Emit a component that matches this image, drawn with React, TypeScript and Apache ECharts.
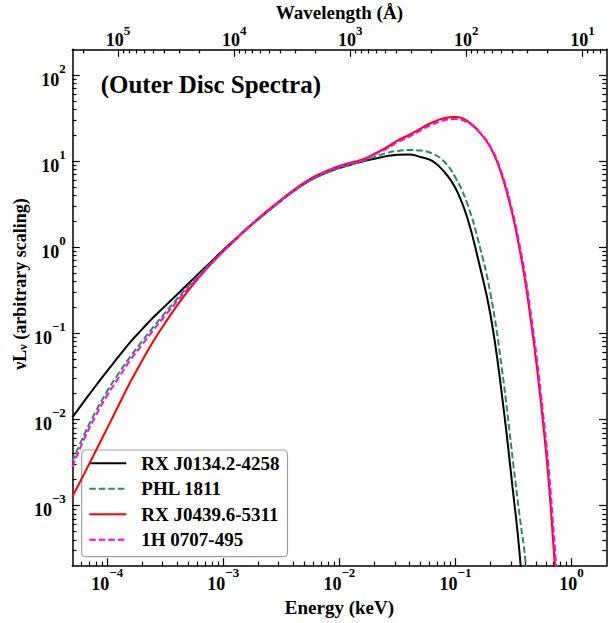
import React, { useEffect, useRef } from 'react';
import * as echarts from 'echarts';

// ---- data ----
const energyKeV = [
  5.0e-5, 6.31e-5, 7.94e-5, 1.0e-4, 1.26e-4, 1.58e-4, 2.0e-4, 2.51e-4, 3.16e-4, 3.98e-4,
  5.01e-4, 6.31e-4, 7.94e-4, 1.0e-3, 1.26e-3, 1.58e-3, 2.0e-3, 2.51e-3, 3.16e-3, 3.98e-3,
  5.01e-3, 6.31e-3, 7.94e-3, 0.01, 0.0126, 0.0158, 0.02, 0.0251, 0.0316, 0.0398,
  0.0501, 0.0631, 0.0794, 0.1, 0.126, 0.158, 0.2, 0.251, 0.316, 0.355,
  0.398, 0.447, 0.501, 0.562, 0.631, 0.708, 0.794,
];

const rxJ0134 = [
  0.0106, 0.0162, 0.0245, 0.0367, 0.0543, 0.0794, 0.112, 0.155, 0.209, 0.282,
  0.38, 0.513, 0.692, 0.933, 1.23, 1.63, 2.13, 2.74, 3.51, 4.45,
  5.5, 6.53, 7.5, 8.36, 9.16, 9.95, 10.7, 11.4, 11.9, 12.0,
  11.2, 10.1, 7.67, 4.9, 2.24, 0.692, 0.166, 0.0195, 0.0013, 0.0003,
  0.00004,
];

const phl1811 = [
  0.00324, 0.00661, 0.0123, 0.0214, 0.0347, 0.0537, 0.0813, 0.12, 0.174, 0.251,
  0.355, 0.49, 0.676, 0.912, 1.216, 1.62, 2.11, 2.72, 3.49, 4.42,
  5.48, 6.5, 7.45, 8.32, 9.16, 10.0, 11.2, 12.4, 13.2, 13.5,
  13.3, 12.3, 10.0, 6.46, 3.24, 1.16, 0.29, 0.0389, 0.0029, 0.0008,
  0.00025, 0.00005,
];

const rxJ0439 = [
  0.00126, 0.00232, 0.00427, 0.00794, 0.0148, 0.0272, 0.0484, 0.0822, 0.133, 0.209,
  0.316, 0.462, 0.653, 0.902, 1.216, 1.62, 2.16, 2.8, 3.59, 4.57,
  5.68, 6.8, 7.85, 8.81, 9.66, 10.5, 12.2, 14.3, 17.4, 20.2,
  24.0, 28.2, 31.6, 32.7, 29.5, 22.4, 14.5, 6.87, 2.14, 0.977,
  0.412, 0.138, 0.0421, 0.0105, 0.00215, 0.000263, 0.0000316,
];

const h0707 = [
  0.00282, 0.00589, 0.011, 0.0191, 0.0309, 0.049, 0.0741, 0.11, 0.162, 0.234,
  0.339, 0.473, 0.661, 0.902, 1.216, 1.63, 2.14, 2.75, 3.53, 4.49,
  5.58, 6.65, 7.67, 8.61, 9.44, 10.2, 11.9, 13.8, 16.6, 19.3,
  22.9, 26.6, 29.9, 30.9, 28.5, 22.4, 14.8, 7.24, 2.34, 1.1,
  0.479, 0.166, 0.0525, 0.0135, 0.00302, 0.000417, 0.0000501,
];

const seriesNames = ['RX J0134.2-4258', 'PHL 1811', 'RX J0439.6-5311', '1H 0707-495'];

const energyMajorTicks = [1e-4, 1e-3, 1e-2, 1e-1, 1];
const wavelengthMajorTicks = [1e1, 1e2, 1e3, 1e4, 1e5];
const lumMajorTicks = [1e-3, 1e-2, 1e-1, 1, 1e1, 1e2];

const E_MIN = 5e-5;
const E_MAX = 2;
const Y_MIN = 2e-4;
const Y_MAX = 200;
const HC_KEV_ANGSTROM = 12.398;

// ---- styling ----
const FONT = '"Liberation Serif", "Times New Roman", Times, serif';

function minorTicks(lo: number, hi: number): number[] {
  const out: number[] = [];
  for (let d = Math.floor(Math.log10(lo)) - 1; d <= Math.ceil(Math.log10(hi)); d++) {
    for (let m = 2; m <= 9; m++) {
      const v = m * Math.pow(10, d);
      if (v > lo * 1.0001 && v < hi * 0.9999) out.push(v);
    }
  }
  return out;
}

function pow10Label(v: number): string {
  const e = Math.round(Math.log10(v));
  return `{b|10}{s|${e < 0 ? '\u2212' + -e : e}}`;
}

function makeRich(baseLine: number) {
  return {
    b: { fontFamily: FONT, fontWeight: 'bold', fontSize: 18, lineHeight: baseLine, verticalAlign: 'bottom', color: '#000' },
    s: { fontFamily: FONT, fontWeight: 'bold', fontSize: 13, lineHeight: 12, verticalAlign: 'top', color: '#000' },
  };
}
const labelRich = makeRich(27);
const topLabelRich = makeRich(25);

const frameLine = { show: true, lineStyle: { color: '#000', width: 1.5 } };
const noLine = { show: false };

function tick(len: number, values: number[]) {
  return { show: true, inside: true, length: len, customValues: values, lineStyle: { color: '#000', width: 1.2 } };
}

export default function App() {
  const ref = useRef<HTMLDivElement>(null);

  useEffect(() => {
    if (!ref.current) return;
    const chart = echarts.init(ref.current, null, { renderer: 'svg' });

    const lMin = HC_KEV_ANGSTROM / E_MAX;
    const lMax = HC_KEV_ANGSTROM / E_MIN;

    const mk = (name: string, vals: number[], color: string, dashed: boolean, z: number) => ({
      name,
      type: 'line',
      xAxisIndex: 0,
      yAxisIndex: 0,
      data: vals.map((v, i) => [energyKeV[i], v]),
      symbol: 'none',
      showSymbol: false,
      smooth: 0.45,
      clip: true,
      z,
      lineStyle: { color, width: 2, type: dashed ? [6.5, 3] : 'solid' },
      itemStyle: { color },
    });

    const option: any = {
      animation: false,
      backgroundColor: '#fff',
      grid: { left: 72.3, right: 2.5, top: 49.3, bottom: 57.3, containLabel: false },
      xAxis: [
        {
          type: 'log', position: 'bottom', min: E_MIN, max: E_MAX,
          axisLine: frameLine,
          axisTick: tick(7.5, energyMajorTicks),
          axisLabel: {
            show: true, customValues: energyMajorTicks, formatter: pow10Label, rich: labelRich,
            margin: 0.3, verticalAlign: 'top',
          },
          splitLine: { show: false }, minorTick: { show: false },
        },
        {
          type: 'log', position: 'bottom', min: E_MIN, max: E_MAX,
          axisLine: noLine,
          axisTick: tick(4.2, minorTicks(E_MIN, E_MAX)),
          axisLabel: { show: false },
          splitLine: { show: false },
        },
        {
          type: 'log', position: 'top', min: lMin, max: lMax, inverse: true,
          axisLine: frameLine,
          axisTick: tick(7.5, wavelengthMajorTicks),
          axisLabel: {
            show: true, customValues: wavelengthMajorTicks, formatter: pow10Label, rich: topLabelRich,
            margin: 0.5, verticalAlign: 'bottom',
          },
          splitLine: { show: false },
        },
        {
          type: 'log', position: 'top', min: lMin, max: lMax, inverse: true,
          axisLine: noLine,
          axisTick: tick(4.2, minorTicks(lMin, lMax)),
          axisLabel: { show: false },
          splitLine: { show: false },
        },
      ],
      yAxis: [
        {
          type: 'log', position: 'left', min: Y_MIN, max: Y_MAX,
          axisLine: frameLine,
          axisTick: tick(7.5, lumMajorTicks),
          axisLabel: {
            show: true, customValues: lumMajorTicks, formatter: pow10Label, rich: labelRich,
            margin: 6.5,
          },
          splitLine: { show: false },
        },
        {
          type: 'log', position: 'left', min: Y_MIN, max: Y_MAX,
          axisLine: noLine,
          axisTick: tick(4.2, minorTicks(Y_MIN, Y_MAX)),
          axisLabel: { show: false },
          splitLine: { show: false },
        },
        {
          type: 'log', position: 'right', min: Y_MIN, max: Y_MAX,
          axisLine: frameLine,
          axisTick: tick(7.5, lumMajorTicks),
          axisLabel: { show: false },
          splitLine: { show: false },
        },
        {
          type: 'log', position: 'right', min: Y_MIN, max: Y_MAX,
          axisLine: noLine,
          axisTick: tick(4.2, minorTicks(Y_MIN, Y_MAX)),
          axisLabel: { show: false },
          splitLine: { show: false },
        },
      ],
      legend: {
        show: true,
        orient: 'vertical',
        left: 81.7,
        top: 450,
        data: seriesNames,
        itemWidth: 37,
        itemHeight: 14,
        itemGap: 6.5,
        padding: [3.8, 7.9, 7.4, 6.6],
        backgroundColor: 'rgba(255,255,255,0.85)',
        borderColor: '#a0a0a0',
        borderWidth: 1.2,
        borderRadius: 4,
        itemStyle: { color: 'rgba(0,0,0,0)', borderColor: 'rgba(0,0,0,0)', borderWidth: 0, opacity: 0 },
        textStyle: {
          fontFamily: FONT, fontWeight: 'bold', fontSize: 19, lineHeight: 19, color: '#000',
          padding: [0, 0, 0, 10],
        },
      },
      graphic: [
        {
          type: 'text', x: 100.7, y: 84, z: 100,
          style: {
            text: '(Outer Disc Spectra)', fill: '#000',
            font: `bold 25px ${FONT}`,
            textAlign: 'left', textVerticalAlign: 'middle', align: 'left', verticalAlign: 'middle',
          },
        },
        {
          type: 'text', x: 339.4, y: 12.5, z: 100,
          style: {
            text: 'Wavelength (\u00c5)', fill: '#000',
            font: `bold 19px ${FONT}`,
            textAlign: 'center', textVerticalAlign: 'middle', align: 'center', verticalAlign: 'middle',
          },
        },
        {
          type: 'text', x: 339.4, y: 607, z: 100,
          style: {
            text: 'Energy (keV)', fill: '#000',
            font: `bold 19px ${FONT}`,
            textAlign: 'center', textVerticalAlign: 'middle', align: 'center', verticalAlign: 'middle',
          },
        },
        {
          type: 'text', x: 17.5, y: 284, rotation: Math.PI / 2, z: 100,
          style: {
            text: '{n|\u03bdL}{sub|\u03bd}{n| (arbitrary scaling)}', fill: '#000',
            textAlign: 'center', textVerticalAlign: 'middle', align: 'center', verticalAlign: 'middle',
            rich: {
              n: { fontFamily: FONT, fontWeight: 'bold', fontSize: 18, lineHeight: 22, verticalAlign: 'bottom', fill: '#000', color: '#000' },
              sub: { fontFamily: FONT, fontWeight: 'bold', fontSize: 12, lineHeight: 12, verticalAlign: 'bottom', fill: '#000', color: '#000' },
            },
          },
        },
      ],
      series: [
        mk(seriesNames[0], rxJ0134, '#000000', false, 2),
        mk(seriesNames[1], phl1811, '#2e8b57', true, 3),
        mk(seriesNames[2], rxJ0439, '#ff0000', false, 4),
        mk(seriesNames[3], h0707, '#ff00ff', true, 5),
      ],
    };

    chart.setOption(option);
    return () => chart.dispose();
  }, []);

  return (
    <div
      ref={ref}
      style={{ position: 'fixed', left: 0, top: 0, width: 609, height: 623, background: '#fff' }}
    />
  );
}
